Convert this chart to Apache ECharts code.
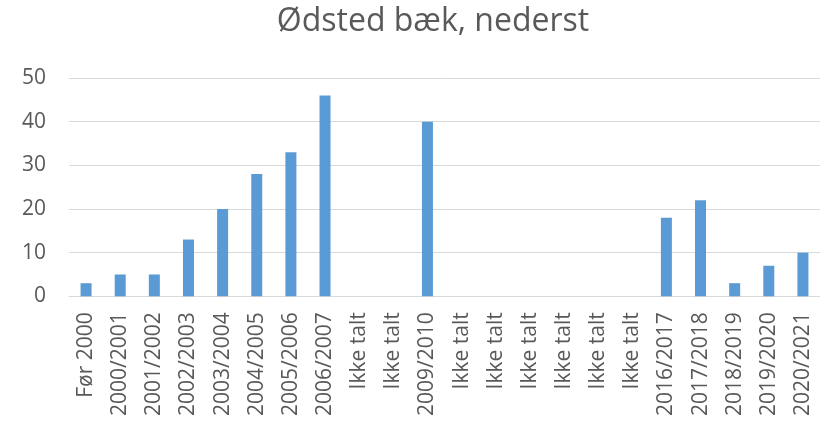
<!DOCTYPE html>
<html>
<head>
<meta charset="utf-8">
<script src="https://cdn.jsdelivr.net/npm/echarts@6/dist/echarts.min.js"></script>
<style>
  html, body { margin: 0; padding: 0; background: #fff; }
  #chart { width: 820px; height: 423px; }
</style>
</head>
<body>
<div id="chart"></div>
<script>
// Seasons along the x axis ("Ikke talt" = not counted)
const seasons = [
  'Før 2000', '2000/2001', '2001/2002', '2002/2003', '2003/2004', '2004/2005',
  '2005/2006', '2006/2007', 'Ikke talt', 'Ikke talt', '2009/2010', 'Ikke talt',
  'Ikke talt', 'Ikke talt', 'Ikke talt', 'Ikke talt', 'Ikke talt', '2016/2017',
  '2017/2018', '2018/2019', '2019/2020', '2020/2021'
];
// Count per season
const counts = [3, 5, 5, 13, 20, 28, 33, 46, 0, 0, 40, 0, 0, 0, 0, 0, 0, 18, 22, 3, 7, 10];
// Value axis range
const yMin = 0;
const yMax = 50;
const yStep = 10;

const font = '"Open Sans", "DejaVu Sans", sans-serif';
const chart = echarts.init(document.getElementById('chart'), null, { renderer: 'canvas' });
chart.setOption({
  animation: false,
  title: {
    text: 'Ødsted bæk, nederst',
    left: 428,
    top: 1,
    textAlign: 'center',
    textStyle: { fontFamily: font, fontSize: 32, fontWeight: 'normal', color: '#595959' }
  },
  grid: { left: 69, top: 78, width: 754.6, height: 218.3, containLabel: false },
  xAxis: {
    type: 'category',
    data: seasons,
    axisLine: { show: true, lineStyle: { color: '#D9D9D9', width: 1 } },
    axisTick: { show: false },
    axisLabel: {
      interval: 0,
      rotate: 90,
      margin: 16,
      fontFamily: font,
      fontSize: 21,
      color: '#595959'
    }
  },
  yAxis: {
    type: 'value',
    min: yMin,
    max: yMax,
    interval: yStep,
    axisLine: { show: false },
    axisTick: { show: false },
    splitLine: { lineStyle: { color: '#D9D9D9', width: 1 } },
    axisLabel: { margin: 23, fontFamily: font, fontSize: 21, color: '#595959' }
  },
  series: [{
    type: 'bar',
    data: counts,
    barWidth: 11,
    itemStyle: { color: '#5B9BD5' }
  }]
});
</script>
</body>
</html>
